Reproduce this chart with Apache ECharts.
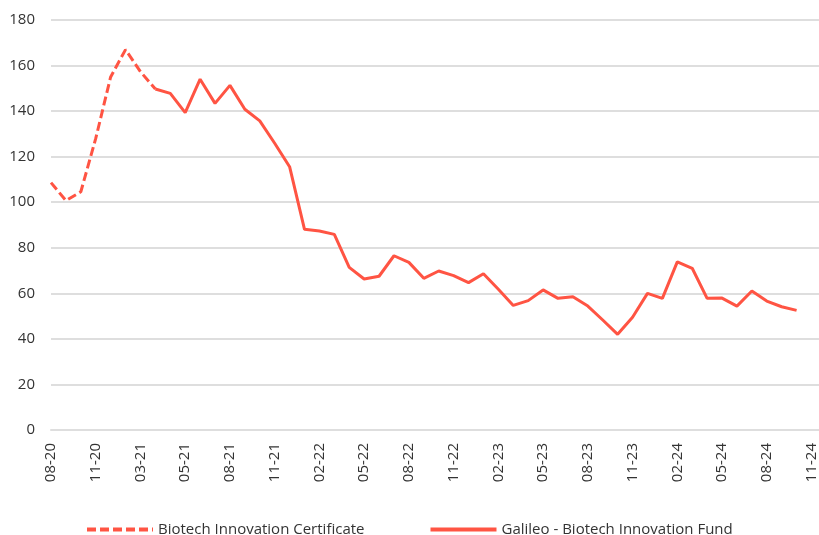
<!DOCTYPE html>
<html>
<head>
  <meta charset="UTF-8">
  <script src="https://cdn.jsdelivr.net/npm/echarts@6/dist/echarts.min.js"></script>
  <style>
    html, body { margin: 0; padding: 0; background: #fff; }
    #chart { width: 819px; height: 535px; }
  </style>
</head>
<body>
<div id="chart"></div>
<script>
  // month labels, one per point (only every third one is shown)
  var months = ['08-20','09-20','10-20','11-20','12-20','01-21','03-21','03-21','04-21','05-21',
    '06-21','07-21','08-21','09-21','10-21','11-21','12-21','01-22','02-22','03-22',
    '04-22','05-22','06-22','07-22','08-22','09-22','10-22','11-22','12-22','01-23',
    '02-23','03-23','04-23','05-23','06-23','07-23','08-23','09-23','10-23','11-23',
    '12-23','01-24','02-24','03-24','04-24','05-24','06-24','07-24','08-24','09-24',
    '10-24','11-24'];

  var certName = 'Biotech Innovation Certificate';
  var fundName = 'Galileo - Biotech Innovation Fund';

  // certificate: points 0..7
  var certValues = [108.6, 100.7, 104.6, 128, 155, 167, 157.3, 149.7];
  // fund: starts at point 7
  var fundStart = 7;
  var fundValues = [149.7, 147.8, 139.3, 154, 143.4, 151.3, 140.8, 135.7, 125.9, 115.6,
    88.1, 87.4, 85.9, 71.4, 66.3, 67.5, 76.5, 73.6, 66.6, 69.8,
    67.8, 64.7, 68.6, 61.8, 54.7, 56.8, 61.5, 57.8, 58.5, 54.4,
    48.3, 42.0, 49.5, 60.0, 57.8, 73.8, 71, 57.8, 57.9, 54.4,
    61, 56.6, 54.1, 52.5];

  var yTicks = [0, 20, 40, 60, 80, 100, 120, 140, 160, 180];

  var red = '#ff5443';
  var grey = '#dedede';
  var textColor = '#333333';
  var font = '"Open Sans", "Noto Sans", sans-serif';

  var certData = certValues.map(function (v, i) { return [i, v]; });
  var fundData = fundValues.map(function (v, i) { return [fundStart + i, v]; });

  var chart = echarts.init(document.getElementById('chart'));
  chart.setOption({
    animation: false,
    backgroundColor: '#fff',
    grid: { left: 51, right: 0, top: 20, bottom: 105 },
    legend: {
      left: 80,
      top: 517,
      itemWidth: 66,
      itemHeight: 14,
      itemGap: 64,
      itemStyle: { opacity: 0 },
      lineStyle: { width: 4 },
      textStyle: { fontFamily: font, fontSize: 15, color: textColor },
      data: [certName, fundName]
    },
    xAxis: {
      type: 'value',
      min: 0,
      max: 51.5,
      interval: 3,
      axisLine: { show: true, lineStyle: { color: grey, width: 2 } },
      axisTick: { show: false },
      splitLine: { show: false },
      axisLabel: {
        rotate: 90,
        margin: 13,
        color: textColor,
        fontFamily: font,
        fontSize: 15,
        showMaxLabel: false,
        formatter: function (v) {
          return Number.isInteger(v) && months[v] ? months[v] : '';
        }
      }
    },
    yAxis: {
      type: 'value',
      min: yTicks[0],
      max: yTicks[yTicks.length - 1],
      interval: 20,
      axisLine: { show: false },
      axisTick: { show: false },
      splitLine: { lineStyle: { color: grey, width: 2 } },
      axisLabel: { margin: 16, color: textColor, fontFamily: font, fontSize: 15 }
    },
    series: [
      {
        name: certName,
        type: 'line',
        data: certData,
        symbol: 'none',
        lineStyle: { color: red, width: 3, type: [9, 4] },
        itemStyle: { color: red }
      },
      {
        name: fundName,
        type: 'line',
        data: fundData,
        symbol: 'none',
        lineStyle: { color: red, width: 3 },
        itemStyle: { color: red }
      }
    ]
  });
</script>
</body>
</html>
